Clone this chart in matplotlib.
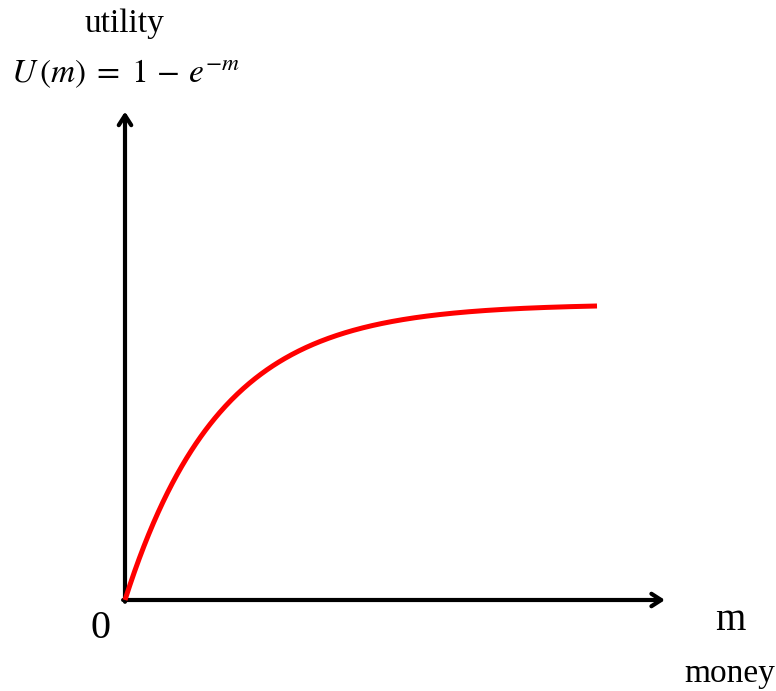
import numpy as np
import matplotlib
matplotlib.use("Agg")
import matplotlib.pyplot as plt

# ==========================================================
# Data
# ==========================================================

m_max = 5.0                      # curve drawn for m in [0, 5]
x_axis_end = 5.72                # arrow tip of the money axis
y_axis_end = 1.65                # arrow tip of the utility axis

money = np.linspace(0, m_max, 400)
utility = 1 - np.exp(-money)     # U(m) = 1 - e^{-m}, as labelled

# ==========================================================
# Figure (pixel-matched: 94.4 px per unit m, 296 px per unit U)
# ==========================================================

plt.rcParams["font.family"] = ["Liberation Serif", "DejaVu Serif"]
plt.rcParams["mathtext.fontset"] = "stix"

W, H = 776, 691
ox, oy = 125, 600
sx, sy = 94.4, 296.0

fig = plt.figure(figsize=(W / 100, H / 100), dpi=100)
ax = fig.add_axes([0, 0, 1, 1])
ax.set_xlim(-ox / sx, (W - ox) / sx)
ax.set_ylim(-(H - oy) / sy, oy / sy)
ax.axis("off")

arrow = dict(arrowstyle="->,head_length=0.7,head_width=0.45",
             lw=3, color="black", shrinkA=0, shrinkB=0)
ax.annotate("", xy=(x_axis_end, 0), xytext=(-0.02, 0), arrowprops=arrow)
ax.annotate("", xy=(0, y_axis_end), xytext=(0, -0.006), arrowprops=arrow)

ax.plot(money, utility, color="red", lw=3.6, solid_capstyle="butt", zorder=3)

def px(x, y):
    return (x - ox) / sx, (oy - y) / sy

ax.text(*px(125, 24), "utility", fontsize=24, ha="center", va="center")
ax.text(*px(125, 74), r"$U\,(m)\;=\;1\,-\,e^{-m}$", fontsize=24,
        ha="center", va="center")
ax.text(*px(100, 628), "0", fontsize=29, ha="center", va="center")
ax.text(*px(730, 620), "m", fontsize=28, ha="center", va="center")
ax.text(*px(730, 674), "money", fontsize=24, ha="center", va="center")

fig.savefig("out.png", dpi=100)
plt.close(fig)
